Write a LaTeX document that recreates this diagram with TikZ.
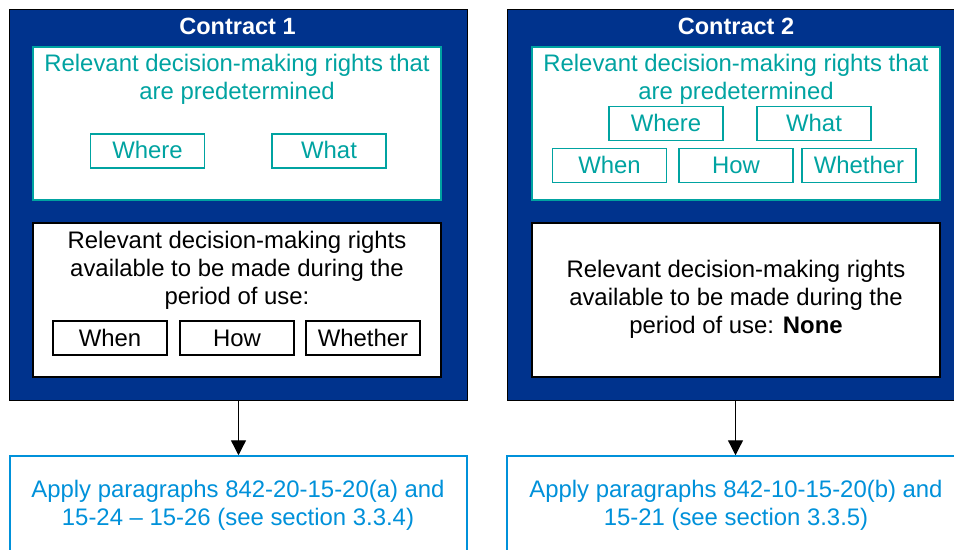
\documentclass[tikz,border=0pt]{standalone}
\usepackage{fontspec}
\setmainfont{Liberation Sans}
\usetikzlibrary{arrows.meta}
\definecolor{kdark}{HTML}{00338D}
\definecolor{kteal}{HTML}{00A3A1}
\definecolor{klight}{HTML}{0091DA}
\begin{document}
\begin{tikzpicture}[x=1bp,y=-1bp,
  every node/.style={inner sep=0pt, font=\fontsize{23.9bp}{28bp}\selectfont},
  contract/.style={draw=black, line width=1bp, fill=kdark, minimum width=457bp, minimum height=390bp},
  predbox/.style={draw=kteal, line width=1.5bp, fill=white, minimum width=408bp, minimum height=153bp},
  availbox/.style={draw=black, line width=1.3bp, fill=white, minimum width=408bp, minimum height=154bp},
  tealtag/.style={draw=kteal, text=kteal, line width=1.3bp, minimum width=114bp, minimum height=34bp, text height=16bp, text depth=0bp},
  blacktag/.style={draw=black, line width=1.3bp, minimum width=114bp, minimum height=34bp, text height=16bp, text depth=0bp},
  resultbox/.style={draw=klight, line width=1.5bp, fill=white, minimum width=457bp, minimum height=160bp},
  titletxt/.style={anchor=base, text=white, font=\fontsize{23.5bp}{28bp}\selectfont\bfseries},
  tealtxt/.style={anchor=base, text=kteal},
  blacktxt/.style={anchor=base, text=black},
  bluetxt/.style={anchor=base, text=klight},
  arrowline/.style={draw=black, line width=1.3bp, -{Triangle[width=15bp,length=15bp]}}
]
\useasboundingbox (0,0) rectangle (954,550);
\clip (0,0) rectangle (954,550);
\fill[white] (0,0) rectangle (954,550);

% Contract 1
\node[contract] (c1) at (238.5,205) {};
\node[titletxt] (t1) at (237.5,35) {Contract 1};
\node[predbox] (p1) at (237,123.5) {};
\node[tealtxt] (p1a) at (237,72) {Relevant decision-making rights that};
\node[tealtxt] (p1b) at (237,100) {are predetermined};
\node[tealtag] (where1) at (147.5,151) {Where};
\node[tealtag] (what1) at (329,151) {What};
\node[availbox] (a1) at (237,300) {};
\node[blacktxt] (a1a) at (237,249) {Relevant decision-making rights};
\node[blacktxt] (a1b) at (237,277) {available to be made during the};
\node[blacktxt] (a1c) at (237,304.5) {period of use:};
\node[blacktag] (when1) at (110,338) {When};
\node[blacktag] (how1) at (237,338) {How};
\node[blacktag] (whether1) at (363,338) {Whether};

% Contract 2
\node[contract] (c2) at (735.5,205) {};
\node[titletxt] (t2) at (736,35) {Contract 2};
\node[predbox] (p2) at (736,123.5) {};
\node[tealtxt] (p2a) at (736,72) {Relevant decision-making rights that};
\node[tealtxt] (p2b) at (736,100) {are predetermined};
\node[tealtag] (where2) at (666,123.5) {Where};
\node[tealtag] (what2) at (814,123.5) {What};
\node[tealtag] (when2) at (609.5,165.5) {When};
\node[tealtag] (how2) at (736,165.5) {How};
\node[tealtag] (whether2) at (859,165.5) {Whether};
\node[availbox] (a2) at (736,300) {};
\node[blacktxt] (a2a) at (736,278) {Relevant decision-making rights};
\node[blacktxt] (a2b) at (736,306) {available to be made during the};
\node[blacktxt] (a2c) at (736,334) {period of use: \textbf{None}};

% Results
\node[resultbox] (b1) at (238.5,536) {};
\node[bluetxt] (b1a) at (238,497) {Apply paragraphs 842-20-15-20(a) and};
\node[bluetxt] (b1b) at (238,525) {15-24 -- 15-26 (see section 3.3.4)};
\node[resultbox] (b2) at (735.5,536) {};
\node[bluetxt] (b2a) at (736,497) {Apply paragraphs 842-10-15-20(b) and};
\node[bluetxt] (b2b) at (736,525) {15-21 (see section 3.3.5)};

% Connectors
\draw[arrowline] (c1.south) -- (b1.north);
\draw[arrowline] (c2.south) -- (b2.north);
\end{tikzpicture}
\end{document}
